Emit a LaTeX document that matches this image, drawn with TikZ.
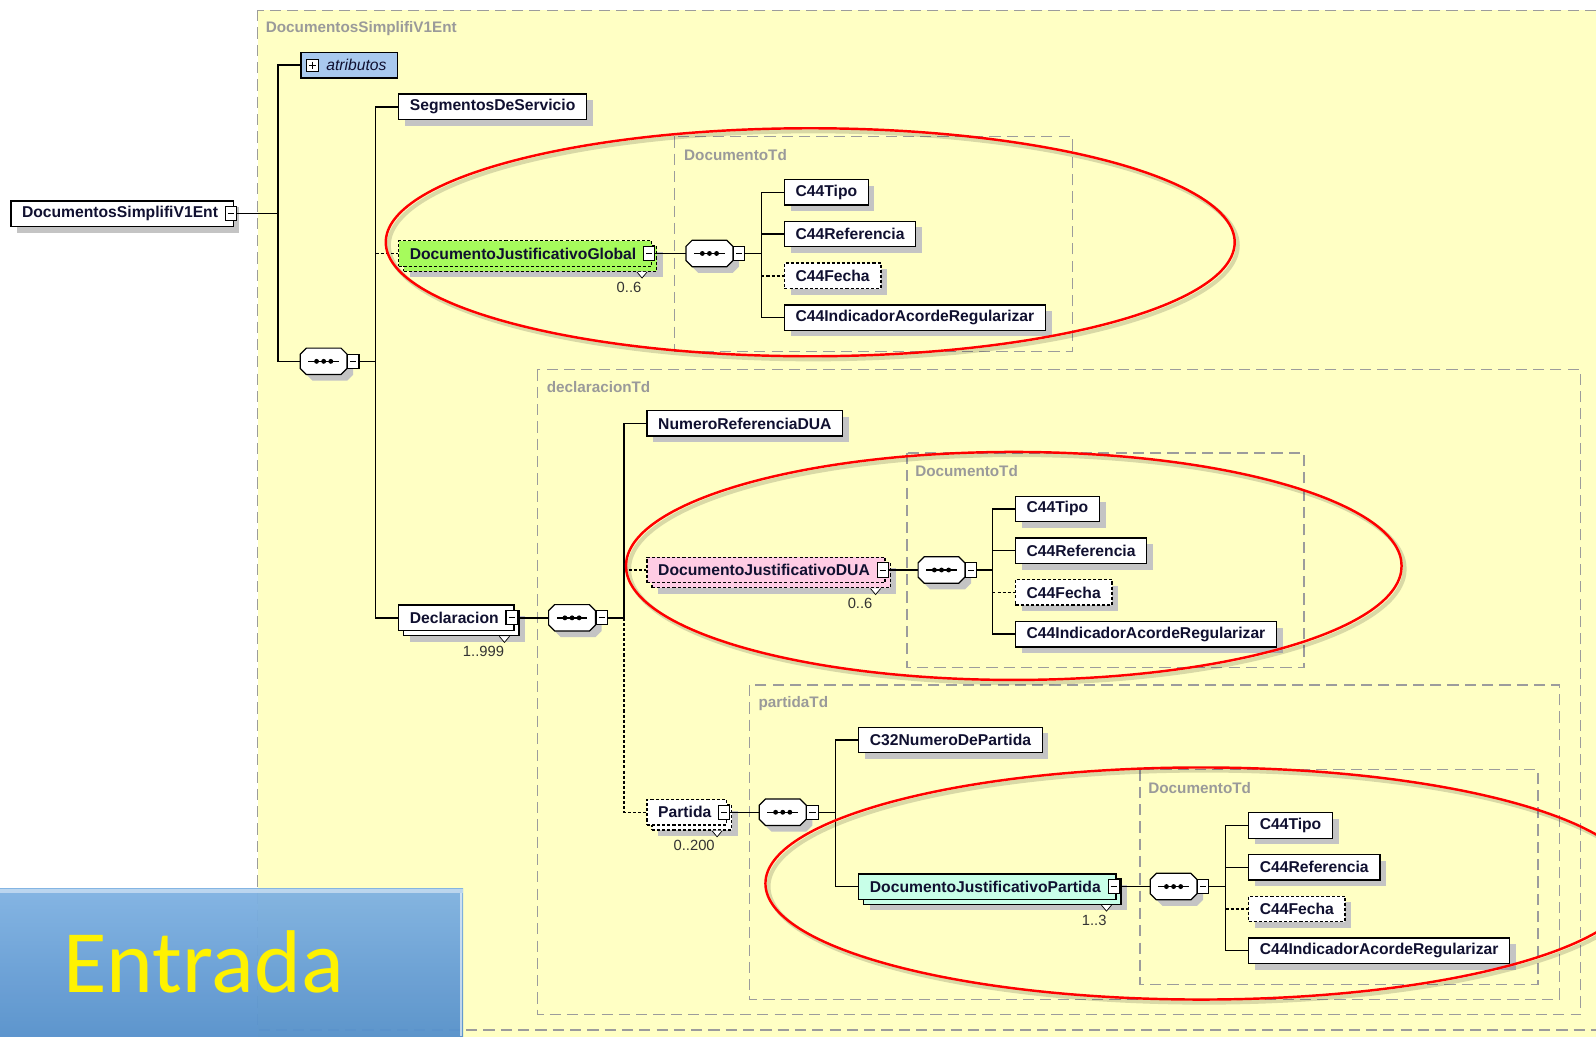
\documentclass[tikz,border=0pt]{standalone}
\usepackage{fontspec}
\setmainfont{Liberation Sans}
\newfontfamily\entfont{Carlito}
\usetikzlibrary{calc,shadows}
\definecolor{ybg}{HTML}{FFFFC4}
\definecolor{etxt}{HTML}{101030}
\definecolor{tgray}{HTML}{9A9A9A}
\definecolor{dgray}{HTML}{9C9C9C}
\definecolor{shd}{HTML}{C4C4C4}
\definecolor{globf}{HTML}{A6FB5C}
\definecolor{duaf}{HTML}{FFCCE4}
\definecolor{djpf}{HTML}{C8FFE8}
\definecolor{atrf}{HTML}{A9C9EE}
\definecolor{entA}{HTML}{80B2E2}
\definecolor{entB}{HTML}{5791CC}
\newcommand\seqsym[2]{%
  \node[seqn] (#1) at (#2) {};
  \fill[shd, shift={(#1.center)}, xshift=6pt, yshift=-6pt] (-23,-7) -- (-17,-13) -- (17,-13) -- (23,-7) -- (23,7) -- (17,13) -- (-17,13) -- (-23,7) -- cycle;
  \draw[fill=white, line width=1.2pt, shift={(#1.center)}] (-23,-7) -- (-17,-13) -- (17,-13) -- (23,-7) -- (23,7) -- (17,13) -- (-17,13) -- (-23,7) -- cycle;
  \draw[line width=1.3pt] ($(#1.center)+(-15,0)$) -- ($(#1.center)+(15,0)$);
  \foreach \d in {-7,0,7} \fill ($(#1.center)+(\d,0)$) circle (2.4pt);
  \node[minusb, anchor=west] (#1m) at (#1.east) {};
}
\newcommand\mgap{\kern4pt}
\begin{document}
\begin{tikzpicture}[x=1pt,y=-1pt,
  elem/.style={draw=black, line width=1.3pt, fill=white, text=etxt,
    font=\fontsize{15.4}{17}\selectfont\bfseries, inner xsep=11pt, inner ysep=0pt,
    minimum height=25pt, anchor=west},
  opt/.style={dash pattern=on 3pt off 2pt},
  shad/.style={drop shadow={shadow xshift=6pt, shadow yshift=-6pt, fill=shd, opacity=1}},
  minusb/.style={draw=black, fill=white, line width=1pt, minimum width=11pt,
    minimum height=14pt, inner sep=0pt, anchor=center,
    path picture={\draw[line width=1pt] ([xshift=2.5pt]path picture bounding box.west) -- ([xshift=-2.5pt]path picture bounding box.east);}},
  plusb/.style={draw=black, fill=white, line width=1pt, minimum width=12pt,
    minimum height=12pt, inner sep=0pt, anchor=center,
    path picture={\draw[line width=1pt] ([xshift=2.5pt]path picture bounding box.west) -- ([xshift=-2.5pt]path picture bounding box.east);
      \draw[line width=1pt] ([yshift=-2.5pt]path picture bounding box.north) -- ([yshift=2.5pt]path picture bounding box.south);}},
  seqn/.style={minimum width=46pt, minimum height=26pt, inner sep=0pt},
  typebox/.style={draw=dgray, line width=1.2pt, dash pattern=on 11pt off 6pt},
  tlabel/.style={anchor=west, inner sep=0pt, text=tgray, font=\fontsize{15}{17}\selectfont\bfseries},
  mult/.style={font=\fontsize{14.5}{16}\selectfont, text=black!80},
  conn/.style={line width=1.3pt, draw=black},
  notch/.style={fill=white, draw=black, line width=0.7pt},
  redell/.style={draw=red, line width=2.4pt},
  ellsh/.style={draw=black, opacity=0.15, line width=4pt}
]
\useasboundingbox (0,0) rectangle (1568,1018);
\clip (0,0) rectangle (1568,1018);
\fill[white] (0,0) rectangle (1568,1018);
\fill[ybg] (253,10) rectangle (1580,1030);

% type boxes
\draw[typebox] (253,10) rectangle (1600,1012);
\node[tlabel] (lab0) at (261,28) {DocumentosSimplifiV1Ent};
\draw[typebox] (663,134) rectangle (1054,345);
\node[tlabel] (lab1) at (672,152) {DocumentoTd};
\draw[typebox] (528,363) rectangle (1553,997);
\node[tlabel] (lab2) at (537,380) {declaracionTd};
\draw[typebox] (891,445) rectangle (1281,656);
\node[tlabel] (lab3) at (899,463) {DocumentoTd};
\draw[typebox] (736,673) rectangle (1532,982);
\node[tlabel] (lab4) at (745,691) {partidaTd};
\draw[typebox] (1120,756) rectangle (1511,967);
\node[tlabel] (lab5) at (1128,774) {DocumentoTd};

% root level
\node[elem, shad] (root) at (10,210) {DocumentosSimplifiV1Ent\mgap};
\node[minusb] (rootm) at ($(root.east)+(-3,0)$) {};
\node[elem, fill=atrf, font=\fontsize{15.4}{17}\selectfont\itshape] (atr) at (295,64) {\kern14pt atributos};
\node[plusb] (atrp) at ($(atr.west)+(12,0)$) {};
\seqsym{s1}{318,355}
\coordinate (t1) at (273,210);
\coordinate (t2) at (369,355);

% level 2
\node[elem, shad] (seg) at (391,105) {SegmentosDeServicio};
\node[elem, shad, opt, fill=globf] (globB) at (396,254) {\phantom{DocumentoJustificativoGlobal}\mgap};
\node[elem, opt, fill=globf] (glob) at (391,249) {DocumentoJustificativoGlobal\mgap};
\node[minusb] (globm) at ($(glob.east)+(-3,0)$) {};
\draw[notch] ($(globB.south east)+(-20,0)$) -- ++(5,6) -- ++(5,-6);
\node[mult] (globc) at (618,282) {0..6};

\node[elem, shad] (declB) at (396,612) {\phantom{Declaracion}\mgap};
\node[elem] (decl) at (391,607) {Declaracion\mgap};
\node[minusb] (declm) at ($(decl.east)+(-3,0)$) {};
\draw[notch] ($(declB.south east)+(-20,0)$) -- ++(5,6) -- ++(5,-6);
\node[mult] (declc) at (475,640) {1..999};

% DocumentoTd 1
\seqsym{s2}{697,249}
\coordinate (t3) at (748,249);
\node[elem, shad] (tipo1) at (770,189) {C44Tipo};
\node[elem, shad] (ref1) at (770,230) {C44Referencia};
\node[elem, shad, opt] (fec1) at (770,271) {C44Fecha};
\node[elem, shad] (ind1) at (770,312) {C44IndicadorAcordeRegularizar};

% declaracionTd
\seqsym{s3}{562,607}
\coordinate (t4) at (613,607);
\node[elem, shad] (num) at (635,416) {NumeroReferenciaDUA};
\node[elem, shad, opt, fill=duaf] (duaB) at (640,565) {\phantom{DocumentoJustificativoDUA}\mgap};
\node[elem, opt, fill=duaf] (dua) at (635,560) {DocumentoJustificativoDUA\mgap};
\node[minusb] (duam) at ($(dua.east)+(-3,0)$) {};
\draw[notch] ($(duaB.south east)+(-20,0)$) -- ++(5,6) -- ++(5,-6);
\node[mult] (duac) at (845,593) {0..6};
\node[elem, shad, opt] (partB) at (640,803) {\phantom{Partida}\mgap};
\node[elem, opt] (part) at (635,798) {Partida\mgap};
\node[minusb] (partm) at ($(part.east)+(-3,0)$) {};
\draw[notch] ($(partB.south east)+(-20,0)$) -- ++(5,6) -- ++(5,-6);
\node[mult] (partc) at (682,831) {0..200};

% DocumentoTd 2
\seqsym{s4}{925,560}
\coordinate (t5) at (975,560);
\node[elem, shad] (tipo2) at (997,500) {C44Tipo};
\node[elem, shad] (ref2) at (997,541) {C44Referencia};
\node[elem, shad, opt] (fec2) at (997,582) {C44Fecha};
\node[elem, shad] (ind2) at (997,623) {C44IndicadorAcordeRegularizar};

% partidaTd
\seqsym{s5}{769,798}
\coordinate (t6) at (821,798);
\node[elem, shad] (c32) at (843,727) {C32NumeroDePartida};
\node[elem, shad, fill=djpf] (djpB) at (848,876) {\phantom{DocumentoJustificativoPartida}\mgap};
\node[elem, fill=djpf] (djp) at (843,871) {DocumentoJustificativoPartida\mgap};
\node[minusb] (djpm) at ($(djp.east)+(-3,0)$) {};
\draw[notch] ($(djpB.south east)+(-20,0)$) -- ++(5,6) -- ++(5,-6);
\node[mult] (djpc) at (1075,904) {1..3};

% DocumentoTd 3
\seqsym{s6}{1153,871}
\coordinate (t7) at (1204,871);
\node[elem, shad] (tipo3) at (1226,811) {C44Tipo};
\node[elem, shad] (ref3) at (1226,852) {C44Referencia};
\node[elem, shad, opt] (fec3) at (1226,893) {C44Fecha};
\node[elem, shad] (ind3) at (1226,934) {C44IndicadorAcordeRegularizar};

% connectors
\draw[conn] (rootm.east) -- (t1);
\draw[conn] (atr.west) -| (t1) |- (s1.west);
\draw[conn] (s1m.east) -- (t2);
\draw[conn] (seg.west) -| (t2) |- (decl.west);
\draw[conn, opt] (t2 |- glob.west) -- (glob.west);

\draw[conn] (globm.east) -- (s2.west);
\draw[conn] (s2m.east) -- (t3);
\draw[conn] (tipo1.west) -| (t3) |- (ind1.west);
\draw[conn] (t3 |- ref1.west) -- (ref1.west);
\draw[conn, opt] (t3 |- fec1.west) -- (fec1.west);

\draw[conn] (declm.east) -- (s3.west);
\draw[conn] (s3m.east) -- (t4);
\draw[conn] (num.west) -| (t4);
\draw[conn, opt] (t4) |- (part.west);
\draw[conn, opt] (t4 |- dua.west) -- (dua.west);

\draw[conn] (duam.east) -- (s4.west);
\draw[conn] (s4m.east) -- (t5);
\draw[conn] (tipo2.west) -| (t5) |- (ind2.west);
\draw[conn] (t5 |- ref2.west) -- (ref2.west);
\draw[conn, opt] (t5 |- fec2.west) -- (fec2.west);

\draw[conn] (partm.east) -- (s5.west);
\draw[conn] (s5m.east) -- (t6);
\draw[conn] (c32.west) -| (t6) |- (djp.west);

\draw[conn] (djpm.east) -- (s6.west);
\draw[conn] (s6m.east) -- (t7);
\draw[conn] (tipo3.west) -| (t7) |- (ind3.west);
\draw[conn] (t7 |- ref3.west) -- (ref3.west);
\draw[conn, opt] (t7 |- fec3.west) -- (fec3.west);

% red ellipses
\draw[ellsh] (799,241) ellipse [x radius=417pt, y radius=112pt];
\draw[redell] (796,238) ellipse [x radius=417pt, y radius=112pt];
\draw[ellsh] (999,559) ellipse [x radius=381pt, y radius=112pt];
\draw[redell] (996,556) ellipse [x radius=381pt, y radius=112pt];
\draw[ellsh] (1183,871) ellipse [x radius=428pt, y radius=114pt];
\draw[redell] (1180,868) ellipse [x radius=428pt, y radius=114pt];

% Entrada banner
\shade[top color=entA, bottom color=entB, opacity=0.96] (0,873) rectangle (455,1018);
\fill[white, opacity=0.45] (0,873) rectangle (455,877);
\draw[white, opacity=0.6, line width=2pt] (453,877) -- (453,1018);
\node[anchor=base west, text=yellow, font=\entfont\fontsize{87.5}{92}\selectfont, inner sep=0pt] (ent) at (62,975) {Entrada};
\end{tikzpicture}
\end{document}
